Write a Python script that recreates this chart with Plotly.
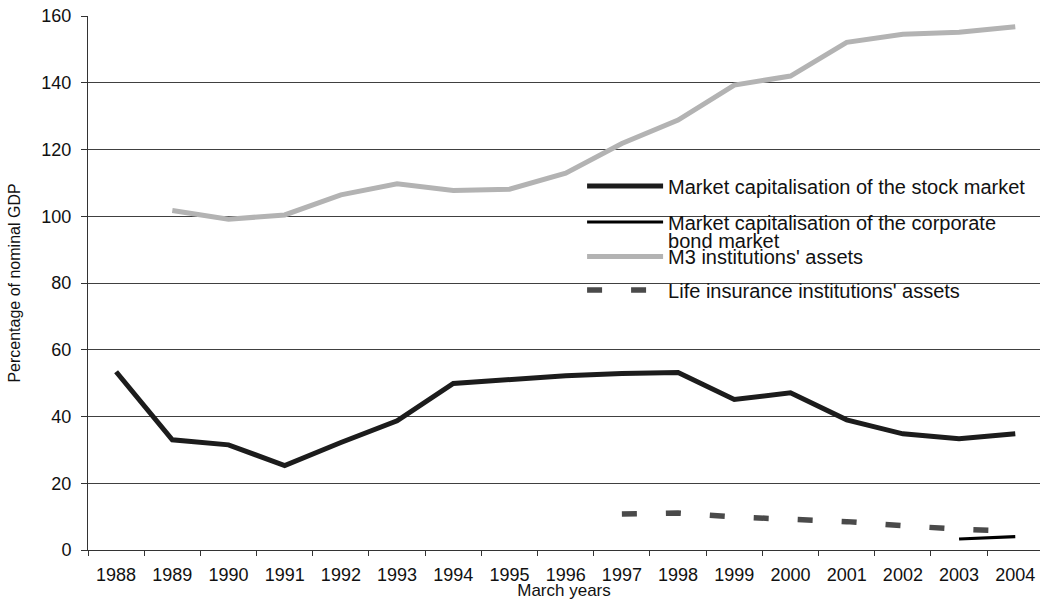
import plotly.graph_objects as go

# Data (percent of nominal GDP, March years)
years = [str(y) for y in range(1988, 2005)]
stock_mkt = [53.4, 33.0, 31.5, 25.3, 32.2, 38.7, 49.9, 51.2, 52.2, 52.9, 53.2, 45.1, 47.1, 39.0, 34.8, 33.3, 34.8]
bond_mkt = [None] * 15 + [3.3, 4.0]
m3_assets = [None, 101.7, 99.1, 100.4, 106.4, 109.7, 107.7, 108.1, 112.9, 121.8, 128.8, 139.3, 142.0, 152.1, 154.5, 155.1, 156.8]
life_assets = [None] * 9 + [10.8, 11.1, 9.9, 9.2, 8.5, 7.3, 6.2, 5.7]

font_family = "Liberation Sans, Arial, sans-serif"
legend_font = dict(family=font_family, size=20, color="#111")

fig = go.Figure()

fig.add_trace(go.Scatter(x=years, y=m3_assets, name="M3 institutions' assets", mode="lines",
                         line=dict(color="#b3b3b3", width=5), legend="legend3"))
fig.add_trace(go.Scatter(x=years, y=life_assets, name="Life insurance institutions' assets", mode="lines",
                         line=dict(color="#4a4a4a", width=5.5, dash="15px,29px"), legend="legend4"))
fig.add_trace(go.Scatter(x=years, y=stock_mkt, name="Market capitalisation of the stock market", mode="lines",
                         line=dict(color="#1c1c1c", width=5), legend="legend"))
fig.add_trace(go.Scatter(x=years, y=bond_mkt, name="Market capitalisation of the corporate", mode="lines",
                         line=dict(color="#000000", width=3.2), legend="legend2"))
# second line of the bond legend label (tighter line spacing than plotly's <br>)
fig.add_trace(go.Scatter(x=[None], y=[None], name="bond market", mode="lines",
                         line=dict(color="rgba(0,0,0,0)", width=1), legend="legend5", hoverinfo="skip"))


def legend_at(y_px):
    # y in pixels from the top of the page -> paper coords of the plot area
    return dict(x=0.519, y=(550 - y_px) / 534, xanchor="left", yanchor="middle",
                bgcolor="rgba(0,0,0,0)", borderwidth=0, font=legend_font, itemwidth=76)


fig.update_layout(
    width=1040, height=600,
    margin=dict(l=88, r=0, t=16, b=50),
    paper_bgcolor="white", plot_bgcolor="white",
    font=dict(family=font_family, color="#111"),
    showlegend=True,
    legend=legend_at(186),
    legend2=legend_at(222),
    legend5=legend_at(240),
    legend3=legend_at(256.5),
    legend4=legend_at(290),
    shapes=[dict(type="rect", xref="paper", yref="paper", x0=0.5126, x1=1.0, y0=0.393, y1=0.730,
                 fillcolor="white", line=dict(width=0), layer="between")],
)

fig.update_xaxes(
    type="category", range=[-0.5, 16.44], tickson="boundaries",
    ticks="outside", ticklen=5, tickcolor="#333", showline=True, linecolor="#333", linewidth=1,
    showgrid=False, tickfont=dict(size=18), ticklabelstandoff=8,
    title=dict(text="March years", font=dict(size=17), standoff=1),
)
fig.update_yaxes(
    range=[0, 160], dtick=20, ticks="outside", ticklen=6, tickcolor="#333",
    showline=True, linecolor="#333", linewidth=1, zeroline=False,
    showgrid=True, gridcolor="#404040", gridwidth=1,
    tickfont=dict(size=18), ticklabelstandoff=6,
    title=dict(text="Percentage of nominal GDP", font=dict(size=16), standoff=16),
)

# page body has a default 8px margin; remove it so the figure sits at the window origin
fig.write_html("out.html", config={"displayModeBar": False},
               post_script="document.body.style.margin='0';")
